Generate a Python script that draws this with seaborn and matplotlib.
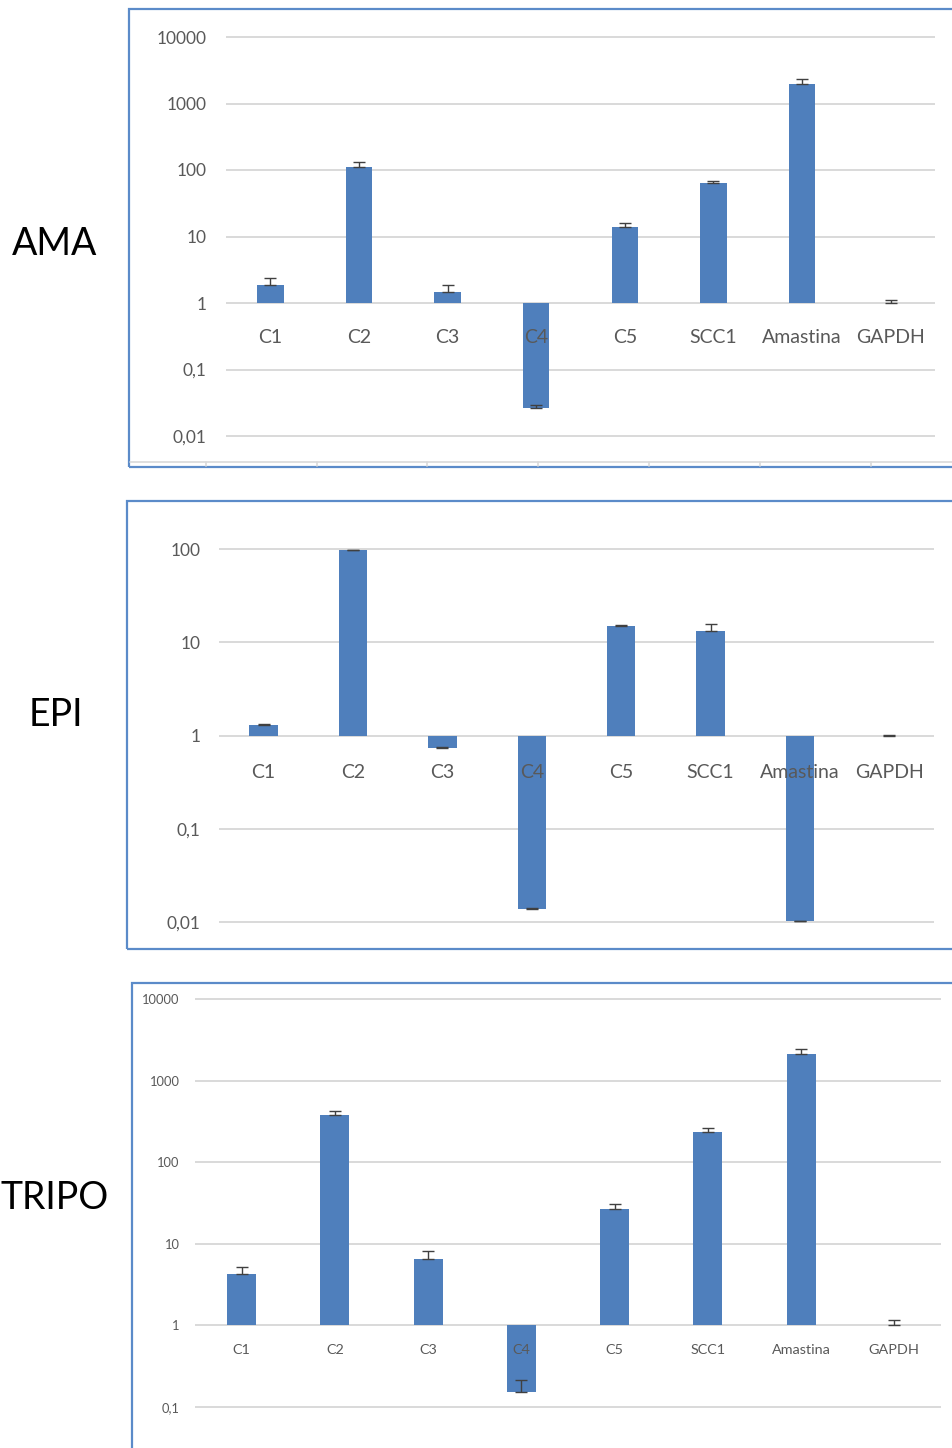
import numpy as np
import pandas as pd
import seaborn as sns
import matplotlib
matplotlib.use("Agg")
import matplotlib.pyplot as plt
from matplotlib.patches import Rectangle
from matplotlib.lines import Line2D

# ---- data: relative expression (fold change), plus-direction error ----
genes = ["C1", "C2", "C3", "C4", "C5", "SCC1", "Amastina", "GAPDH"]

ama_vals = [1.86, 110, 1.48, 0.026, 14.0, 63, 1960, 1.0]
ama_err = [0.5, 20, 0.38, 0.003, 2.0, 6, 370, 0.12]

epi_vals = [1.30, 97, 0.744, 0.0138, 15.1, 13.3, 0.0102, 1.0]
epi_err = [0.02, 1.0, 0.01, 0.0003, 0.1, 2.6, 0.0002, 0.01]

tripo_vals = [4.3, 382, 6.44, 0.152, 26.4, 234, 2110, 1.0]
tripo_err = [0.9, 45, 1.6, 0.06, 4.3, 30, 320, 0.15]

stage_names = ["AMA", "EPI", "TRIPO"]
decade_labels = {4: "10000", 3: "1000", 2: "100", 1: "10", 0: "1",
                 -1: "0,1", -2: "0,01"}

# ---- style ----
sns.set_style("white")
plt.rcParams["font.family"] = ["Lato", "DejaVu Sans"]

BAR = "#4f7fbc"
GRID = "#d9d9d9"
TEXT = "#595959"
FRAME = "#5b8bc9"
ERR = "#404040"

W, H = 953, 1448
fig = plt.figure(figsize=(W / 100, H / 100), dpi=100)
fig.patch.set_facecolor("white")


def panel(vals, errs, x0, x1, top_dec, top_px, bot_dec, bot_px,
          tick_fs, cat_fs, ypad, xpad, bar_w, capsize):
    d = (bot_px - top_px) / (top_dec - bot_dec)
    m = 0.3
    ax_top = top_px - m * d
    ax_bot = bot_px + m * d
    ax = fig.add_axes([x0 / W, 1 - ax_bot / H, (x1 - x0) / W, (ax_bot - ax_top) / H])

    logv = np.log10(np.asarray(vals, dtype=float))
    upper = np.log10(np.asarray(vals) + np.asarray(errs)) - logv
    df = pd.DataFrame({"gene": genes, "logval": logv})

    sns.barplot(data=df, x="gene", y="logval", order=genes, color=BAR,
                saturation=1, width=bar_w, errorbar=None, linewidth=0, ax=ax)
    ax.errorbar(np.arange(len(genes)), logv,
                yerr=[np.zeros_like(upper), upper], fmt="none",
                ecolor=ERR, elinewidth=1.0, capsize=capsize, capthick=1.0,
                zorder=4)

    ax.set_xlim(-0.5, len(genes) - 0.5)
    ax.set_ylim(bot_dec - m, top_dec + m)
    ticks = list(range(bot_dec, top_dec + 1))
    ax.set_yticks(ticks)
    ax.set_yticklabels([decade_labels[t] for t in ticks])
    ax.yaxis.grid(True, color=GRID, linewidth=1.4)
    ax.xaxis.grid(False)
    ax.set_axisbelow(True)
    # category names are written over the bars
    ax.xaxis.set_zorder(6)

    # category labels sit on the value-1 line
    ax.spines["bottom"].set_position(("data", 0))
    for s in ax.spines.values():
        s.set_color("none")
    ax.tick_params(axis="x", length=0, pad=xpad, labelsize=cat_fs, labelcolor=TEXT)
    ax.tick_params(axis="y", length=0, pad=ypad, labelsize=tick_fs, labelcolor=TEXT)
    ax.set_xlabel("")
    ax.set_ylabel("")
    ax.patch.set_alpha(0)
    return ax


panel(ama_vals, ama_err, 226, 935, 4, 37, -2, 436,
      12.5, 14, 14.0, 19.0, 0.30, 4)
panel(epi_vals, epi_err, 219, 934, 2, 549, -2, 922.3,
      12.5, 14, 13.5, 20.5, 0.32, 4)
panel(tripo_vals, tripo_err, 195, 941, 4, 999, -1, 1406.7,
      9.3, 10.4, 11.0, 13.5, 0.31, 4)

# ---- chart frames ----
frames = [(129, 9, 467), (127, 501, 949), (132, 983, 1470)]
for left, top, bottom in frames:
    fig.add_artist(Rectangle((left / W, 1 - bottom / H), (W + 20 - left) / W,
                             (bottom - top) / H, transform=fig.transFigure,
                             fill=False, edgecolor=FRAME, linewidth=1.6,
                             clip_on=False))

# faint category axis at the foot of the first chart
yb = 1 - 462 / H
fig.add_artist(Line2D([130 / W, 1], [yb, yb], transform=fig.transFigure,
                      color=GRID, linewidth=1.2))
for xt in [206, 317, 427, 538, 649, 760, 871]:
    fig.add_artist(Line2D([xt / W, xt / W], [yb, yb - 4 / H],
                          transform=fig.transFigure, color=GRID, linewidth=1.2))

# ---- stage labels ----
for name, (cx, base) in zip(stage_names, [(55, 255), (56, 725.7), (54.5, 1209)]):
    fig.text(cx / W, 1 - base / H, name, ha="center", va="baseline",
             fontsize=27, color="black")

fig.savefig("out.png", dpi=100, facecolor="white")
